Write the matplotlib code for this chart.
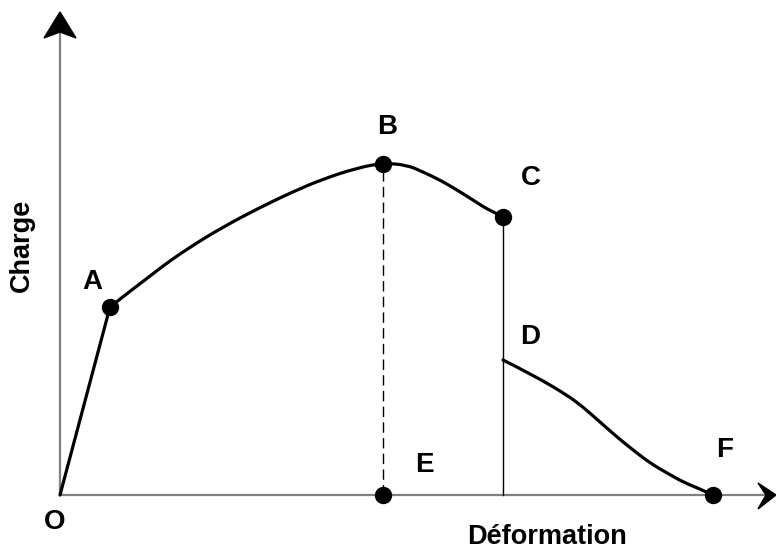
import matplotlib
matplotlib.use('Agg')
import matplotlib.pyplot as plt
from matplotlib.patches import Polygon, PathPatch
from matplotlib.path import Path

plt.rcParams['font.family'] = ['Liberation Sans', 'DejaVu Sans']

# ── Data (origin O, units ~ pixels of the original sketch) ─────────────────
# elastic part O -> A
oa_x = [0, 50]
oa_y = [0, 188]
# A -> B -> C (rising, peak at B, falling to C)
ac_x = [50, 97, 130, 163, 197, 230, 263, 297, 323, 347, 363, 380, 397, 413, 430, 444]
ac_y = [188, 225, 248, 268, 286, 302, 316, 327, 332, 330, 323, 315, 305, 295, 284, 278]
# D -> F
df_x = [443, 473, 507, 523, 540, 557, 573, 590, 607, 623, 640, 653]
df_y = [135, 120, 100, 88, 73, 58, 45, 32, 22, 13, 6, 0]

pt_names = ["A", "B", "C", "E", "F"]
pt_x     = [50, 323, 443, 323, 653]
pt_y     = [188, 331, 278, 0, 0]

lab_names = ["O", "A", "B", "C", "D", "E", "F"]
lab_x     = [-5, 32, 327, 471, 470, 364, 665]
lab_y     = [-27, 213, 368, 317, 158, 30, 45]


def smooth_curve(ax, xs, ys, **kw):
    # quadratic bezier through the midpoints, control at the read points
    pts = list(zip(xs, ys))
    if len(pts) < 3:
        ax.plot(xs, ys, **kw)
        return
    verts = [pts[0]]
    codes = [Path.MOVETO]
    for i in range(1, len(pts) - 1):
        mid = ((pts[i][0] + pts[i + 1][0]) / 2, (pts[i][1] + pts[i + 1][1]) / 2)
        if i == len(pts) - 2:
            mid = pts[-1]
        verts += [pts[i], mid]
        codes += [Path.CURVE3, Path.CURVE3]
    ax.add_patch(PathPatch(Path(verts, codes), fill=False, **kw))


fig = plt.figure(figsize=(7.76, 5.49), dpi=100)
ax = fig.add_axes([0, 0, 1, 1])
ax.set_xlim(-60, 716)
ax.set_ylim(-54, 495)
ax.axis('off')

# axes with arrowheads
ax.plot([0, 0], [0, 465], color='#808080', lw=1.6, zorder=1)
ax.plot([0, 705], [0, 0], color='#808080', lw=1.6, zorder=1)
ax.add_patch(Polygon([(0, 483), (-16, 457), (0, 463), (16, 457)],
                     closed=True, color='black', zorder=2))
ax.add_patch(Polygon([(716, 0), (698, 12), (706, 0), (698, -14)],
                     closed=True, color='black', zorder=2))

# guide lines
ax.plot([323, 323], [0, 331], color='black', lw=1.0, ls=(0, (7.5, 3.8)), zorder=2)
ax.plot([443, 443], [0, 278], color='black', lw=1.0, zorder=2)

# curves
ax.plot(oa_x, oa_y, color='black', lw=2.3, solid_capstyle='round', zorder=3)
for xs, ys in [(ac_x, ac_y), (df_x, df_y)]:
    smooth_curve(ax, xs, ys, edgecolor='black', lw=2.3, capstyle='round',
                 joinstyle='round', zorder=3)

ax.plot(pt_x, pt_y, 'o', color='black', ms=11.5, zorder=4)

for name, x, y in zip(lab_names, lab_x, lab_y):
    ax.text(x, y, name, fontsize=20, fontweight='bold', ha='center', va='center')

ax.text(-38, 250, "Charge", fontsize=19.5, fontweight='bold', rotation=90,
        ha='center', va='center')
ax.text(487, -42, "Déformation", fontsize=19.5, fontweight='bold',
        ha='center', va='center')

fig.savefig("out.png", dpi=100)
